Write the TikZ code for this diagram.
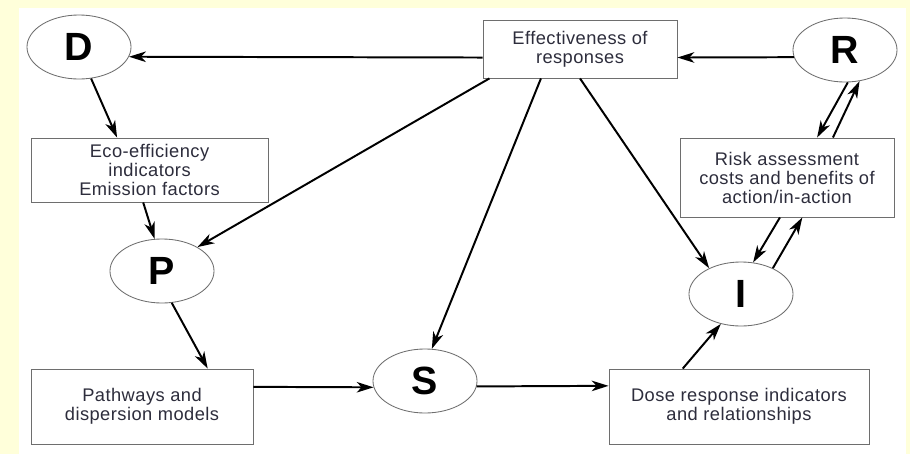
\documentclass[tikz,border=0pt]{standalone}
\usepackage{fontspec}
\setmainfont{Liberation Sans}
\newfontfamily\boxfont[LetterSpace=2.5]{Liberation Sans}
\usetikzlibrary{shapes.geometric,arrows.meta}
\definecolor{bgyellow}{RGB}{255,255,218}
\definecolor{boxline}{RGB}{110,110,110}
\definecolor{boxtext}{RGB}{45,45,60}

\tikzstyle{letter} = [ellipse,draw=boxline,line width=0.6pt,fill=white,minimum width=2.6cm,minimum height=1.6cm,inner sep=0pt,font=\fontsize{28}{30}\selectfont\bfseries]
\tikzstyle{textbox} = [rectangle,draw=boxline,line width=0.6pt,fill=white,inner sep=0pt,align=center,text=boxtext,font=\boxfont\fontsize{13}{13.5}\selectfont]
\tikzstyle{arrowdecorate}=[-{Stealth[length=12pt,width=7.5pt,inset=3.5pt]},line width=1.4pt]

\begin{document}
\begin{tikzpicture}[x=0.025cm,y=-0.025cm]
      %background
      \fill[bgyellow] (0,0) rectangle (910,454);
      \fill[white] (19,8) rectangle (906,454);
      \useasboundingbox (0,0) rectangle (910,454);
      %nodes
      \foreach \nodename/\x/\y in {D/79/47, P/162/271, S/425/381, I/741/294, R/845/50}
      {
        \node[letter] (\nodename) at (\x,\y) {\nodename};
      };
      \node[textbox, minimum width=4.85cm, minimum height=1.45cm] (eff) at (580,49) {Effectiveness of\\responses};
      \node[textbox, minimum width=5.925cm, minimum height=1.6cm] (eco) at (149.5,170) {Eco-efficiency\\indicators\\Emission factors};
      \node[textbox, minimum width=5.35cm, minimum height=1.975cm] (risk) at (787,177.5) {Risk assessment\\costs and benefits of\\action/in-action};
      \node[textbox, minimum width=5.55cm, minimum height=1.875cm] (pathways) at (142,406.5) {Pathways and\\dispersion models};
      \node[textbox, minimum width=6.5cm, minimum height=1.875cm] (dose) at (739,406.5) {Dose response indicators\\and relationships};
      %edges
      \path
      \foreach \startnode/\endnode in {
        eff.185/D.-11, R.188/eff.-5, D.-69/eco.135, eco.-101/P.103,
        eff.198/P.34, eff.217/S.78, eff.south/I.141, P.-73/pathways.30,
        pathways.10/S.187, S.-6/dose.171, dose.146/I.-124,
        R.-85/risk.53, risk.41/R.-65, risk.-100/I.69, I.39/risk.-69}
      {
        (\startnode) edge[arrowdecorate] (\endnode)
      };
\end{tikzpicture}
\end{document}
